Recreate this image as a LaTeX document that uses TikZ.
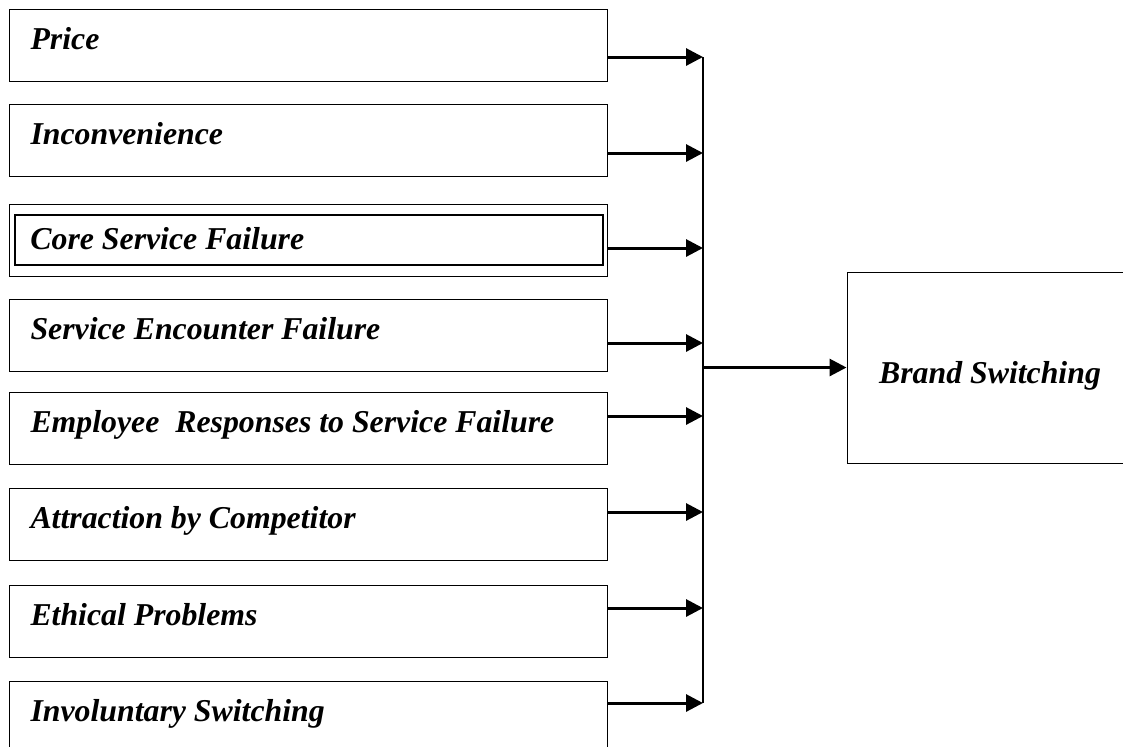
\documentclass[tikz,border=0pt]{standalone}
\usepackage{fontspec}
\setmainfont{Liberation Serif}
\usetikzlibrary{arrows.meta}
\tikzset{
  factor/.style={draw,line width=0.5pt,anchor=north west,minimum width=299pt,minimum height=36pt,
    inner xsep=10.5pt,text width=278pt,align=flush left,text height=12pt,text depth=8pt,
    font=\fontsize{15.9}{20}\selectfont\bfseries\itshape},
  flow/.style={line width=1.5pt,-{Triangle[length=8.5pt,width=8.5pt]}}
}
\begin{document}
\begin{tikzpicture}[x=0.5pt,y=-0.5pt]
\clip (0,0) rectangle (1123,746);
% factors
\node[factor] (price) at (9,9) {Price};
\node[factor] (incon) at (9,104) {Inconvenience};
\node[factor] (coreout) at (9,204) {};
\draw[line width=0.75pt] (15,215) rectangle (603,265);
\node[anchor=base west,font=\fontsize{15.9}{20}\selectfont\bfseries\itshape,inner sep=0pt] (core) at (30,249) {Core Service Failure};
\node[factor] (encou) at (9,299) {Service Encounter Failure};
\node[factor] (emplo) at (9,392) {Employee\ \ Responses to Service Failure};
\node[factor] (attra) at (9,488) {Attraction by Competitor};
\node[factor] (ethic) at (9,585) {Ethical Problems};
\node[factor] (invol) at (9,681) {Involuntary Switching};
% outcome
\node[draw,line width=0.5pt,minimum width=143pt,minimum height=95.5pt,text height=18pt,text depth=2pt,
  font=\fontsize{15.9}{20}\selectfont\bfseries\itshape] (brand) at (990,367.5) {Brand Switching};
% bus
\coordinate (b1) at (703,57);
\coordinate (b2) at (703,153);
\coordinate (b3) at (703,248);
\coordinate (b4) at (703,343);
\coordinate (b5) at (703,416);
\coordinate (b6) at (703,512);
\coordinate (b7) at (703,608);
\coordinate (b8) at (703,703);
\coordinate (bm) at (703,367.5);
\draw[line width=0.8pt] (b1) -- (b8);
\draw[flow] (price.east |- b1) -- (b1);
\draw[flow] (incon.east |- b2) -- (b2);
\draw[flow] (coreout.east |- b3) -- (b3);
\draw[flow] (encou.east |- b4) -- (b4);
\draw[flow] (emplo.east |- b5) -- (b5);
\draw[flow] (attra.east |- b6) -- (b6);
\draw[flow] (ethic.east |- b7) -- (b7);
\draw[flow] (invol.east |- b8) -- (b8);
\draw[flow] (bm) -- (brand.west);
\end{tikzpicture}
\end{document}
